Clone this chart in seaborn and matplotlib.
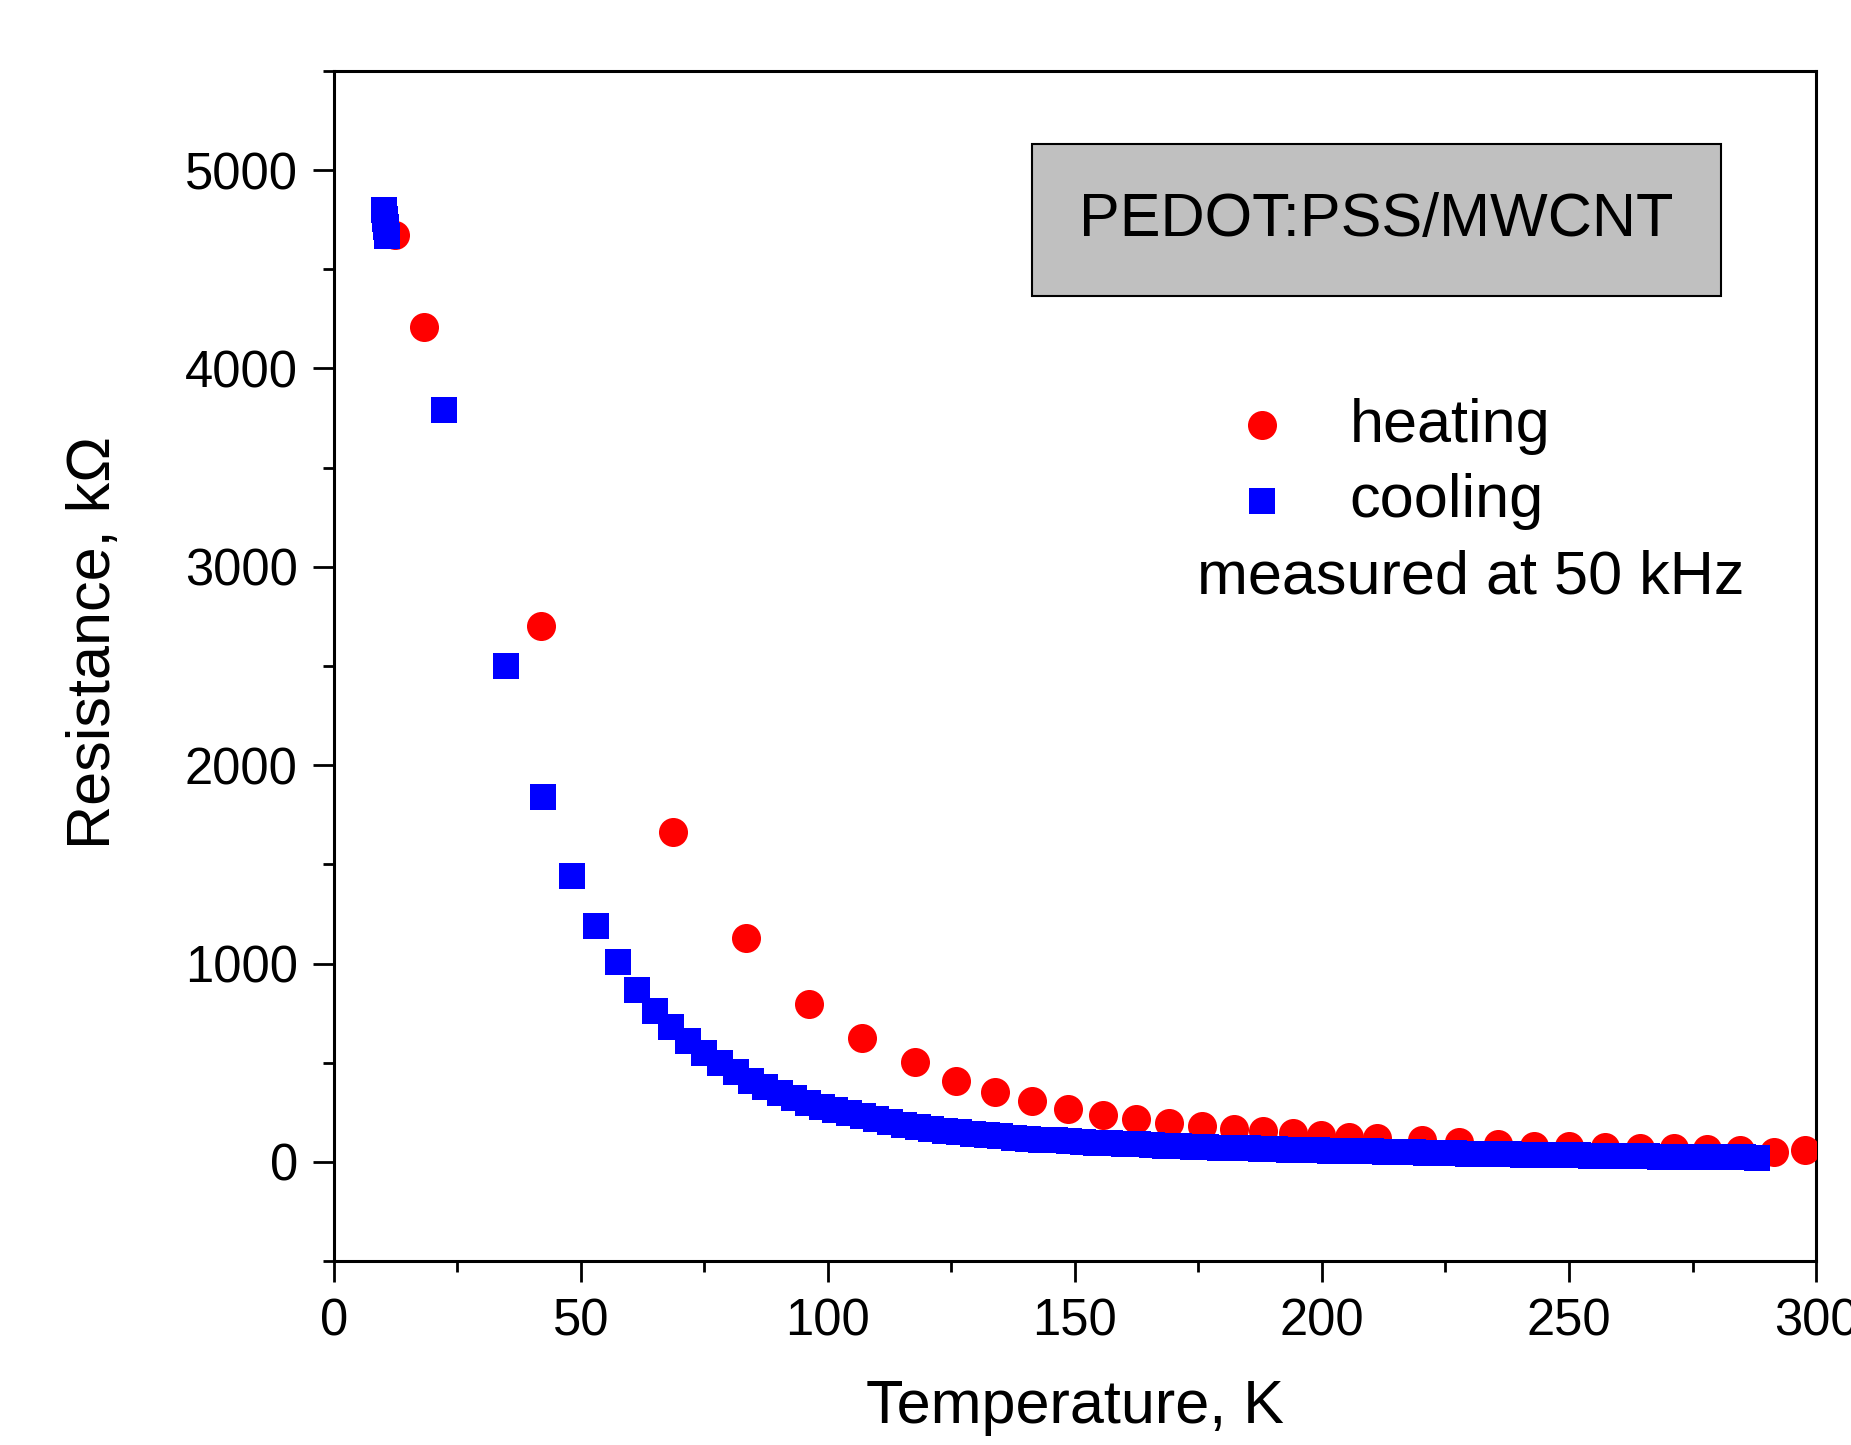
import matplotlib
matplotlib.use('Agg')
import matplotlib.pyplot as plt
import seaborn as sns
from matplotlib.ticker import MultipleLocator

# heating run (red circles)
heat_T = [12.4, 18.3, 42.0, 68.6, 83.4, 96.1, 106.9, 117.6, 125.9, 133.8,
          141.4, 148.6, 155.6, 162.3, 169.0, 175.7, 182.2, 188.1, 194.1, 199.8,
          205.5, 211.1, 220.2, 227.7, 235.6, 242.9, 250.0, 257.3, 264.4, 271.3,
          277.9, 284.6, 291.5, 297.8]
heat_R = [4672, 4210, 2703, 1662, 1131, 798, 625, 506, 410, 354,
          305, 266, 238, 215, 198, 182, 168, 156, 144, 134,
          126, 118, 108, 101, 88, 82, 78, 75, 71, 68,
          65, 60, 52, 60]

# cooling run (blue squares)
cool_T = [10.1, 10.3, 10.5, 10.7, 22.2, 34.9, 42.4, 48.2, 53.1, 57.6,
          61.4, 64.9, 68.3, 71.6, 74.9, 78.1, 81.3, 84.4, 87.3, 90.2,
          93.1, 95.9, 98.7, 101.5, 104.2, 107.0, 109.8, 112.6, 115.4, 118.2,
          120.9, 123.7, 126.5, 129.3, 132.1, 134.9, 137.6, 140.4, 143.2, 146.0,
          148.8, 151.6, 154.3, 157.1, 159.9, 162.7, 165.5, 168.3, 171.0, 173.8,
          176.6, 179.4, 182.2, 185.0, 187.7, 190.5, 193.3, 196.1, 198.9, 201.7,
          204.4, 207.2, 210.0, 212.8, 215.6, 218.4, 221.1, 223.9, 226.7, 229.5,
          232.3, 235.1, 237.8, 240.6, 243.4, 246.2, 249.0, 251.8, 254.5, 257.3,
          260.1, 262.9, 265.7, 268.5, 271.2, 274.0, 276.8, 279.6, 282.4, 285.2,
          288.0]
cool_R = [4798, 4754, 4713, 4669, 3790, 2500, 1842, 1441, 1189, 1009,
          868, 762, 678, 608, 547, 497, 451, 409, 378, 347,
          320, 298, 278, 260, 244, 229, 215, 201, 188, 176,
          166, 157, 149, 141, 134, 128, 122, 117, 112, 108,
          104, 100, 97, 94, 91, 88, 85, 82, 79, 77,
          74, 72, 70, 68, 66, 64, 62, 60, 59, 57,
          56, 54, 53, 51, 50, 48, 46, 45, 43, 42,
          40, 39, 38, 37, 36, 35, 34, 33, 32, 31,
          30, 29, 28, 27, 27, 26, 25, 24, 24, 23,
          22]

sns.set_style('ticks')
plt.rcParams['font.family'] = ['Liberation Sans', 'DejaVu Sans']
plt.rcParams['text.color'] = 'black'
plt.rcParams['axes.labelcolor'] = 'black'
plt.rcParams['xtick.color'] = 'black'
plt.rcParams['ytick.color'] = 'black'

fig = plt.figure(figsize=(18.51, 14.45), dpi=100)
ax = fig.add_axes([0.1804, 0.1273, 0.8007, 0.8236])

sns.scatterplot(x=heat_T, y=heat_R, ax=ax, color='#ff0000', marker='o',
                s=437, linewidth=0, label='heating', zorder=3)
sns.scatterplot(x=cool_T, y=cool_R, ax=ax, color='#0000ff', marker='s',
                s=350, linewidth=0, label='cooling', zorder=4)

ax.set_xlim(0, 300)
ax.set_ylim(-500, 5500)
ax.xaxis.set_major_locator(MultipleLocator(50))
ax.xaxis.set_minor_locator(MultipleLocator(25))
ax.yaxis.set_major_locator(MultipleLocator(1000))
ax.yaxis.set_minor_locator(MultipleLocator(500))

for sp in ax.spines.values():
    sp.set_visible(True)
    sp.set_linewidth(2.2)
    sp.set_color('black')

ax.tick_params(which='major', direction='out', length=15, width=2,
               labelsize=36.5, pad=11, colors='black')
ax.tick_params(which='minor', direction='out', length=8, width=2)
ax.tick_params(top=False, right=False, which='both')

ax.set_xlabel('Temperature, K', fontsize=44)
ax.set_ylabel('Resistance, kΩ', fontsize=44)
ax.xaxis.set_label_coords(0.5, -0.099)
ax.yaxis.set_label_coords(-0.142, 0.52)

ax.text(0.7034, 0.8746, 'PEDOT:PSS/MWCNT', transform=ax.transAxes,
        fontsize=44, ha='center', va='center',
        bbox=dict(boxstyle='square,pad=0.78', fc='#c0c0c0', ec='black', lw=1.5))

ax.legend(loc='center left', bbox_to_anchor=(0.6056, 0.670), frameon=False,
          fontsize=44, handlelength=1.0, handletextpad=0.93,
          borderpad=0, borderaxespad=0, labelspacing=0.3)

ax.text(0.767, 0.5736, 'measured at 50 kHz', transform=ax.transAxes,
        fontsize=44, ha='center', va='center')

fig.savefig('out.png', dpi=100)
